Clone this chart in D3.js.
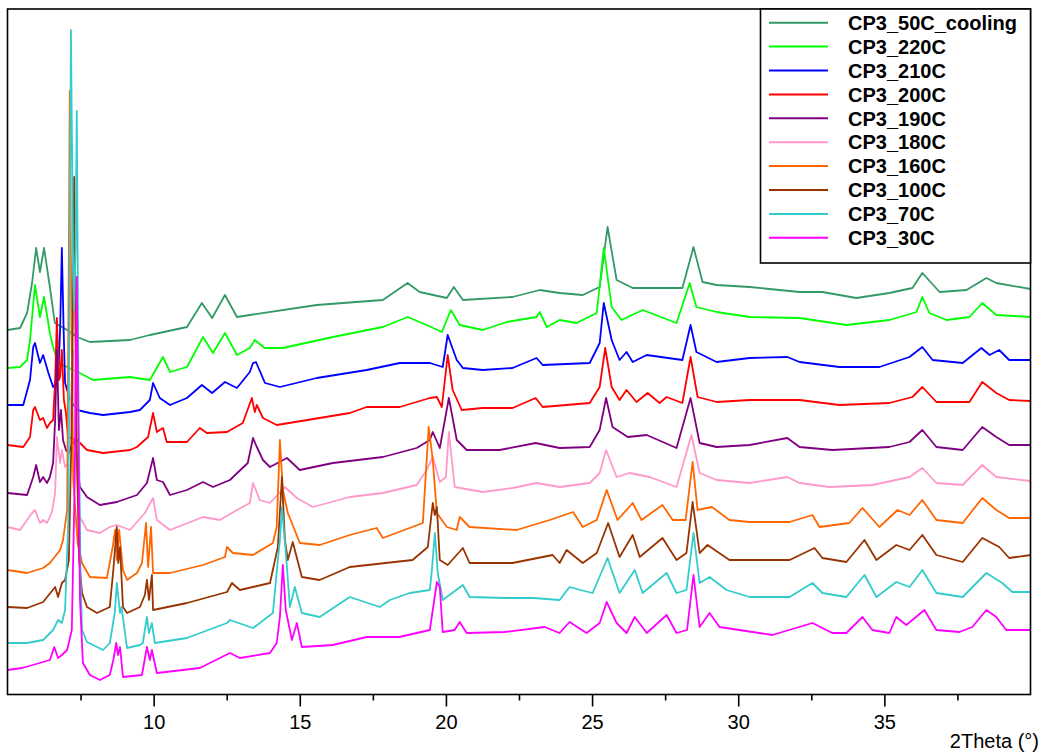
<!DOCTYPE html>
<html><head><meta charset="utf-8">
<script src="https://cdn.jsdelivr.net/npm/d3@7"></script>
<style>body{margin:0;background:#fff}svg{display:block}</style>
</head><body>
<svg id="chart" width="1044" height="755"></svg>
<script>
// ---- data (2Theta in degrees, stacked intensity in a.u.) ----
const seriesNames = ["CP3_50C_cooling","CP3_220C","CP3_210C","CP3_200C","CP3_190C","CP3_180C","CP3_160C","CP3_100C","CP3_70C","CP3_30C"];
const seriesColors = ["#339966","#00ff00","#0000ff","#ff0000","#800080","#ff99cc","#ff6600","#993300","#33cccc","#ff00ff"];
const xMajorTicks = [10,15,20,25,30,35];
const xMinorTicks = [7.5,12.5,17.5,22.5,27.5,32.5,37.5];
const xAxisTitle = "2Theta (°)";

const cp3_50C_cooling = [[5.0,364],[5.43,366],[5.67,381],[5.84,411],[5.98,446],[6.11,422],[6.25,446],[6.45,407],[6.62,371],[7.04,364],[7.38,357],[7.82,352],[9.19,354],[9.87,359],[11.14,367],[11.65,391],[12.0,376],[12.44,399],[12.85,377],[13.29,379],[15.58,389],[17.84,394],[18.69,411],[19.1,402],[20.03,396],[20.27,407],[20.58,394],[22.28,397],[23.21,404],[23.89,401],[24.68,399],[25.26,407],[25.53,467],[25.84,414],[26.39,406],[28.09,406],[28.47,447],[28.78,412],[29.26,409],[30.39,407],[32.1,402],[32.88,402],[34.04,396],[35.17,401],[35.96,406],[36.3,421],[36.89,402],[37.81,404],[38.49,416],[38.83,411],[40,405]];
const cp3_220C = [[5.0,326],[5.43,327],[5.67,334],[5.77,354],[5.94,409],[6.11,377],[6.25,397],[6.45,361],[6.56,347],[6.73,331],[7.04,327],[7.48,321],[7.92,314],[9.19,317],[9.87,314],[10.32,337],[10.56,322],[11.14,327],[11.69,357],[12.03,341],[12.44,361],[12.85,339],[13.29,346],[13.46,354],[13.8,346],[14.42,346],[16.13,357],[17.84,367],[18.69,377],[19.34,369],[19.86,362],[20.17,384],[20.47,369],[21.26,364],[22.08,372],[23.1,377],[23.21,382],[23.45,367],[23.89,374],[24.47,371],[25.16,381],[25.4,446],[25.67,387],[26.01,374],[26.73,384],[27.89,371],[28.34,411],[28.57,387],[29.26,382],[30.39,377],[32.1,376],[33.7,369],[35.17,374],[36.1,382],[36.3,397],[36.54,381],[37.13,374],[37.91,377],[38.35,391],[38.83,379],[40,377]];
const cp3_210C = [[5.0,289],[5.54,289],[5.77,314],[5.88,347],[5.94,351],[6.11,331],[6.22,339],[6.4,321],[6.56,307],[6.73,314],[6.8,364],[6.86,446],[6.92,364],[6.97,311],[7.14,294],[7.38,284],[7.82,281],[8.27,279],[9.19,282],[9.53,284],[9.87,294],[9.98,311],[10.21,296],[10.56,289],[11.14,296],[11.65,309],[12.0,301],[12.44,312],[12.85,306],[13.29,322],[13.4,331],[13.5,332],[13.81,311],[14.32,307],[15.58,316],[17.29,324],[18.42,331],[19.45,331],[19.89,327],[20.06,359],[20.37,334],[20.58,326],[21.26,324],[22.28,326],[23.1,336],[23.31,329],[24.92,331],[25.26,351],[25.4,391],[25.67,354],[25.94,334],[26.18,342],[26.39,332],[26.87,339],[28.09,334],[28.37,369],[28.57,342],[29.26,332],[30.39,336],[31.68,337],[32.1,332],[33.46,327],[34.83,327],[35.86,337],[36.3,347],[36.65,334],[37.68,331],[38.32,346],[38.6,339],[38.93,344],[39.27,334],[40,334]];
const cp3_200C = [[5.0,249],[5.54,247],[5.77,257],[5.88,284],[5.94,287],[6.11,274],[6.22,276],[6.35,266],[6.45,271],[6.56,274],[6.63,314],[6.69,376],[6.76,314],[6.8,317],[6.86,344],[6.93,294],[7.0,281],[7.07,257],[7.38,254],[7.72,244],[8.27,241],[9.19,244],[9.43,247],[9.81,257],[9.98,281],[10.11,262],[10.21,264],[10.32,266],[10.45,252],[11.14,252],[11.58,266],[11.82,261],[12.51,262],[13.05,271],[13.36,296],[13.46,282],[13.53,289],[13.74,276],[14.21,269],[15.68,276],[16.71,281],[17.29,287],[18.42,287],[19.45,296],[19.69,297],[19.86,287],[20.06,339],[20.23,304],[20.54,284],[21.26,286],[22.28,286],[23.07,296],[23.31,287],[24.92,291],[25.26,307],[25.45,346],[25.67,307],[25.94,294],[26.18,304],[26.52,292],[26.9,301],[27.31,291],[27.55,297],[28.09,291],[28.37,337],[28.61,297],[29.26,292],[30.39,294],[32.1,294],[33.46,289],[35.17,291],[35.96,297],[36.3,307],[36.78,292],[37.91,292],[38.35,312],[38.83,301],[39.27,294],[40,293]];
const cp3_190C = [[5.0,201],[5.67,199],[5.88,217],[5.98,229],[6.11,212],[6.22,217],[6.35,211],[6.45,217],[6.56,231],[6.63,274],[6.69,344],[6.76,264],[6.83,284],[6.9,254],[7.0,244],[7.1,241],[7.2,249],[7.31,254],[7.4,224],[7.48,207],[7.72,197],[8.16,189],[8.74,192],[9.43,199],[9.77,211],[9.98,236],[10.11,214],[10.32,212],[10.56,199],[11.14,204],[11.69,212],[12.03,207],[12.61,214],[13.22,231],[13.4,256],[13.53,247],[13.74,234],[13.98,227],[14.56,236],[15.0,224],[16.13,231],[17.84,237],[19.0,246],[19.45,254],[19.55,262],[19.79,246],[20.1,296],[20.37,254],[20.71,244],[21.84,244],[23.07,251],[23.89,246],[24.92,247],[25.26,264],[25.48,296],[25.7,267],[26.22,257],[26.87,259],[27.89,246],[28.37,296],[28.68,251],[29.26,247],[30.39,249],[31.68,256],[32.1,247],[33.22,244],[35.17,247],[35.86,252],[36.3,264],[36.78,247],[37.68,244],[38.35,267],[38.83,257],[39.27,249],[40,249]];
const cp3_180C = [[5.0,167],[5.43,164],[5.84,181],[5.94,184],[6.11,171],[6.22,174],[6.35,171],[6.52,182],[6.63,201],[6.69,257],[6.8,231],[6.86,244],[6.97,227],[7.07,231],[7.17,294],[7.24,344],[7.31,274],[7.4,204],[7.48,177],[7.72,164],[8.16,161],[8.5,167],[8.74,169],[9.19,164],[9.7,181],[9.98,196],[10.11,174],[10.56,164],[11.69,177],[12.27,174],[12.85,184],[13.29,191],[13.4,211],[13.63,194],[13.98,191],[14.49,207],[14.9,196],[15.45,187],[16.71,197],[17.84,201],[19.0,209],[19.34,224],[19.55,237],[19.79,212],[20.0,217],[20.1,262],[20.3,207],[21.26,202],[22.28,206],[23.1,211],[23.89,207],[24.92,211],[25.26,221],[25.48,244],[25.84,217],[26.28,221],[26.97,217],[27.89,207],[28.4,259],[28.68,221],[29.26,214],[30.39,211],[31.68,217],[32.1,211],[33.12,207],[34.6,209],[35.86,217],[36.3,226],[36.78,211],[37.68,209],[38.35,229],[38.83,217],[40,213]];
const cp3_160C = [[5.0,124],[5.67,121],[6.22,126],[6.45,131],[6.8,144],[6.9,154],[7.04,184],[7.1,444],[7.13,603],[7.18,394],[7.25,214],[7.4,151],[7.55,131],[7.82,117],[8.4,116],[8.6,147],[8.68,164],[8.74,134],[8.82,164],[8.95,124],[9.09,114],[9.43,121],[9.6,131],[9.74,171],[9.81,127],[9.91,167],[9.98,121],[10.56,121],[11.69,129],[12.44,137],[12.51,147],[12.71,141],[13.4,139],[14.08,151],[14.21,167],[14.32,254],[14.42,204],[14.59,181],[14.73,171],[15.0,151],[15.68,149],[16.71,159],[17.63,166],[17.84,156],[19.21,171],[19.41,267],[19.55,234],[19.69,181],[20.03,167],[20.37,164],[20.47,177],[20.81,167],[22.42,164],[23.55,174],[24.35,182],[24.68,167],[25.16,174],[25.5,204],[25.87,174],[26.39,191],[26.69,174],[27.41,189],[27.76,174],[28.2,174],[28.44,232],[28.61,184],[29.1,187],[29.7,174],[30.39,172],[31.76,172],[32.54,179],[32.78,167],[33.8,171],[34.25,186],[34.83,167],[35.45,184],[35.86,179],[36.3,194],[36.78,174],[37.68,171],[38.35,196],[38.83,184],[39.27,176],[40,176]];
const cp3_100C = [[5.0,87],[5.67,86],[6.22,92],[6.63,107],[6.73,97],[6.86,111],[6.97,114],[7.1,134],[7.2,274],[7.28,517],[7.35,274],[7.45,134],[7.55,101],[7.72,87],[8.06,81],[8.5,87],[8.62,124],[8.74,167],[8.79,131],[8.85,147],[8.95,87],[9.09,81],[9.53,87],[9.7,99],[9.77,114],[9.84,94],[9.94,119],[9.98,84],[11.14,91],[12.51,102],[12.68,111],[12.95,104],[13.98,111],[14.25,147],[14.39,217],[14.49,154],[14.59,134],[14.76,152],[15.07,117],[15.68,114],[16.71,127],[18.86,134],[19.38,147],[19.55,191],[19.62,179],[19.69,187],[19.79,134],[20.06,129],[20.58,146],[20.81,131],[22.28,131],[23.65,139],[23.89,131],[24.13,144],[24.68,131],[25.16,141],[25.55,171],[25.94,137],[26.39,159],[26.63,137],[27.41,156],[27.89,134],[28.23,141],[28.44,192],[28.68,141],[28.95,149],[29.7,134],[30.39,134],[31.76,134],[32.61,146],[32.88,136],[33.7,132],[34.32,154],[34.73,134],[35.41,149],[35.86,144],[36.3,159],[36.78,139],[37.68,132],[38.35,156],[38.93,147],[39.27,136],[40,139]];
const cp3_70C = [[5.0,51],[5.67,51],[6.22,54],[6.56,64],[6.73,74],[6.86,71],[6.97,84],[7.08,174],[7.17,664],[7.24,444],[7.28,384],[7.33,444],[7.37,583],[7.43,294],[7.5,114],[7.55,64],[7.72,52],[8.27,44],[8.5,51],[8.67,81],[8.74,111],[8.85,81],[8.9,87],[9.09,46],[9.53,49],[9.63,51],[9.77,77],[9.84,61],[9.94,71],[10.04,51],[11.14,56],[12.51,71],[12.61,74],[13.4,66],[14.08,81],[14.25,134],[14.32,154],[14.39,187],[14.56,127],[14.66,87],[14.83,107],[15.07,81],[15.68,77],[16.71,97],[17.74,87],[18.08,94],[18.76,101],[19.45,104],[19.52,124],[19.62,161],[19.72,121],[19.89,94],[20.58,109],[20.81,97],[22.0,96],[23.0,96],[23.89,94],[24.23,107],[24.6,104],[25.02,101],[25.53,136],[25.94,101],[26.46,124],[26.73,101],[27.55,121],[27.89,101],[28.23,104],[28.47,161],[28.68,111],[29.02,117],[29.6,104],[30.39,97],[31.76,97],[32.54,111],[32.88,101],[33.7,97],[34.32,119],[34.73,97],[35.41,112],[35.86,107],[36.3,124],[36.78,101],[37.68,97],[38.49,121],[39.03,111],[39.38,102],[40,102]];
const cp3_30C = [[5.0,24],[5.5,26],[6.1,31],[6.45,34],[6.6,47],[6.73,36],[6.86,39],[7.04,44],[7.2,64],[7.3,214],[7.37,417],[7.43,244],[7.48,94],[7.58,31],[7.82,19],[8.16,14],[8.5,19],[8.62,34],[8.72,51],[8.78,39],[8.85,47],[8.95,17],[9.6,19],[9.77,47],[9.87,34],[9.94,44],[10.11,21],[11.58,26],[12.61,41],[12.95,36],[13.98,41],[14.21,51],[14.32,77],[14.42,129],[14.52,84],[14.73,54],[14.9,71],[15.07,47],[16.13,49],[17.29,57],[18.4,57],[19.45,64],[19.6,94],[19.69,112],[19.79,107],[19.89,62],[20.3,64],[20.47,72],[20.71,61],[22.0,62],[23.38,67],[23.89,61],[24.23,72],[24.81,61],[25.26,71],[25.5,92],[25.84,71],[26.18,61],[26.46,77],[26.87,61],[27.55,79],[27.89,61],[28.25,64],[28.47,119],[28.68,67],[29.02,81],[29.36,67],[30.04,64],[31.17,59],[32.54,71],[33.22,61],[33.7,61],[34.25,77],[34.59,64],[35.17,61],[35.41,77],[35.75,69],[36.37,84],[36.78,64],[37.57,62],[38.01,67],[38.49,84],[38.83,77],[39.17,64],[40,64]];

const seriesData = [cp3_50C_cooling, cp3_220C, cp3_210C, cp3_200C, cp3_190C, cp3_180C, cp3_160C, cp3_100C, cp3_70C, cp3_30C];

// ---- layout ----
const svg = d3.select("#chart");
const plot = {left: 7.5, right: 1030.5, top: 9, bottom: 694.5};
const x = d3.scaleLinear().domain([5, 40]).range([plot.left, plot.right]);
const y = d3.scaleLinear().domain([0, 685]).range([694, 9]);
const font = "'Liberation Sans', Arial, sans-serif";

svg.append("defs").append("clipPath").attr("id","clip")
  .append("rect").attr("x",plot.left).attr("y",plot.top)
  .attr("width",plot.right-plot.left).attr("height",plot.bottom-plot.top);

const line = d3.line().x(d => x(d[0])).y(d => y(d[1]));
const g = svg.append("g").attr("clip-path","url(#clip)");
seriesData.forEach((data, i) => {
  g.append("path").datum(data)
    .attr("fill","none").attr("stroke",seriesColors[i])
    .attr("stroke-width",1.8).attr("stroke-linejoin","round")
    .attr("d", line);
});

// frame
svg.append("rect").attr("x",plot.left).attr("y",plot.top)
  .attr("width",plot.right-plot.left).attr("height",plot.bottom-plot.top)
  .attr("fill","none").attr("stroke","#000").attr("stroke-width",1.6);

// x axis
const axis = d3.axisBottom(x).tickValues(xMajorTicks).tickSize(12).tickPadding(8).tickFormat(d3.format("d"));
const ax = svg.append("g").attr("transform",`translate(0,${plot.bottom})`).call(axis);
ax.select(".domain").remove();
ax.selectAll(".tick line").attr("stroke","#000").attr("stroke-width",1.6);
ax.selectAll(".tick text").attr("font-family",font).attr("font-size",20).attr("fill","#000");
const minor = d3.axisBottom(x).tickValues(xMinorTicks).tickSize(6).tickFormat("");
const mx = svg.append("g").attr("transform",`translate(0,${plot.bottom})`).call(minor);
mx.select(".domain").remove();
mx.selectAll(".tick line").attr("stroke","#000").attr("stroke-width",1.6);

svg.append("text").attr("x",1039).attr("y",748).attr("text-anchor","end")
  .attr("font-family",font).attr("font-size",20).attr("fill","#000").text(xAxisTitle);

// legend
const lg = svg.append("g");
lg.append("rect").attr("x",760.5).attr("y",plot.top).attr("width",plot.right-760.5).attr("height",254)
  .attr("fill","#fff").attr("stroke","#000").attr("stroke-width",1.6);
seriesNames.forEach((name, i) => {
  const yy = 22.7 + i*23.9;
  lg.append("line").attr("x1",769).attr("x2",828).attr("y1",yy).attr("y2",yy)
    .attr("stroke",seriesColors[i]).attr("stroke-width",2);
  lg.append("text").attr("x",848).attr("y",yy+7.2)
    .attr("font-family",font).attr("font-weight","bold").attr("font-size",20).attr("fill","#000").text(name);
});
</script>
</body></html>
